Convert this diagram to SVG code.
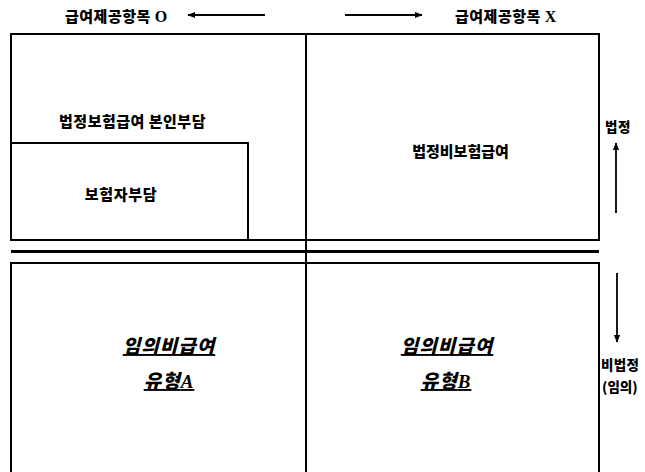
<svg xmlns="http://www.w3.org/2000/svg" width="645" height="472" viewBox="0 0 645 472">
<defs>
<marker id="ah" viewBox="0 0 10 10" refX="9" refY="5" markerWidth="8" markerHeight="8" markerUnits="userSpaceOnUse" orient="auto">
<path d="M0,1 L10,5 L0,9 Z" fill="#000"/>
</marker>
<style>
.box{fill:none;stroke:#000;stroke-width:2}
.t{font-family:"Noto Sans CJK KR","Noto Sans",sans-serif;font-weight:900;font-size:15px;fill:#000}
.s{font-size:13.5px}
.it{font-style:italic;font-size:19px;text-decoration:underline;letter-spacing:1px}
.lat{font-family:"Liberation Serif",serif;font-weight:bold}
.ar{stroke:#000;stroke-width:1.8;fill:none;marker-end:url(#ah)}
</style>
</defs>
<rect width="645" height="472" fill="#fff"/>
<g id="top-box">
<rect class="box" x="11" y="34" width="588" height="206"/>
</g>
<g id="node-legal-self">
<text class="t" x="132.5" y="127" text-anchor="middle" letter-spacing="0.5">법정보험급여 본인부담</text>
</g>
<g id="node-insurer">
<rect class="box" x="11" y="143" width="237" height="97"/>
<text class="t" x="121" y="200" text-anchor="middle" letter-spacing="0.7">보험자부담</text>
</g>
<g id="node-legal-noncovered">
<text class="t" x="460.5" y="157" text-anchor="middle">법정비보험급여</text>
</g>
<g id="separator">
<line x1="11" y1="251.5" x2="599" y2="251.5" stroke="#000" stroke-width="3"/>
<line x1="306" y1="34" x2="306" y2="472" stroke="#000" stroke-width="2"/>
</g>
<g id="bottom-box">
<path class="box" d="M11,473 V263 H599 V473"/>
</g>
<g id="node-typeA">
<text class="t it" x="169" y="353" text-anchor="middle">임의비급여</text>
<text class="t it" x="169" y="388" text-anchor="middle">유형<tspan class="lat">A</tspan></text>
</g>
<g id="node-typeB">
<text class="t it" x="447" y="353" text-anchor="middle">임의비급여</text>
<text class="t it" x="446" y="388" text-anchor="middle">유형<tspan class="lat">B</tspan></text>
</g>
<g id="labels">
<text class="t" x="65" y="22" letter-spacing="0.5">급여제공항목 <tspan class="lat" font-size="16">O</tspan></text>
<text class="t" x="455" y="22" letter-spacing="0.5">급여제공항목 <tspan class="lat" font-size="16">X</tspan></text>
<text class="t s" x="605" y="132" letter-spacing="0.5">법정</text>
<text class="t s" x="601" y="370" letter-spacing="0.3">비법정</text>
<text class="t s" x="602" y="391.5">(임의)</text>
</g>
<g id="connectors">
<line class="ar" x1="265" y1="15" x2="188" y2="15"/>
<line class="ar" x1="345" y1="15" x2="422" y2="15"/>
<line class="ar" x1="616" y1="213" x2="616" y2="143"/>
<line class="ar" x1="617" y1="273" x2="617" y2="342"/>
</g>
</svg>
